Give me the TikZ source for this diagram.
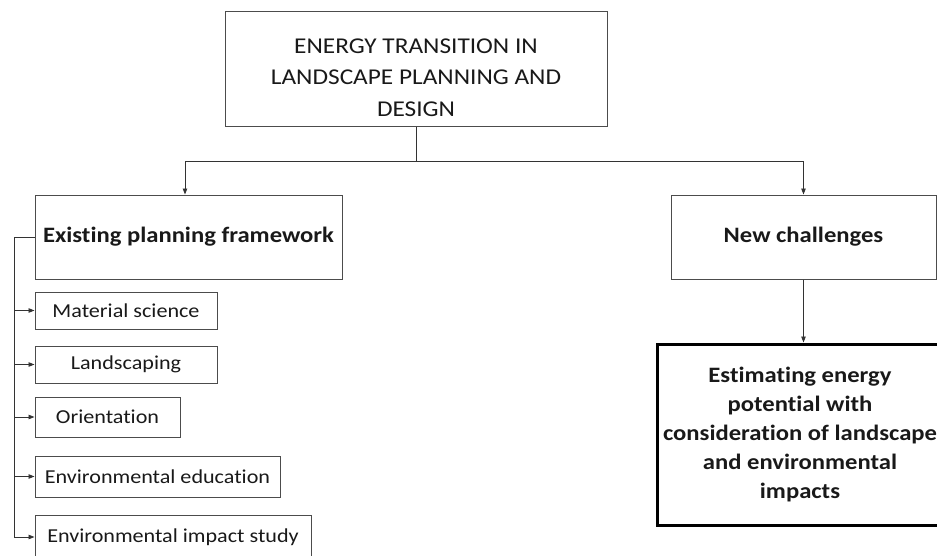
\documentclass[tikz,border=0pt]{standalone}
\usepackage{fontspec}
\setmainfont{Carlito}[FakeStretch=1.12,Ligatures=NoCommon]
\usetikzlibrary{arrows.meta}
\begin{document}
\begin{tikzpicture}[x=1pt,y=-1pt,
  box/.style={draw=black!70,line width=1pt,rectangle,inner sep=0pt,align=center,text=black!90},
  sub/.style={box,font=\fontsize{19.75}{23}\selectfont},
  arr/.style={draw=black!80,line width=0.9pt,-{Triangle[length=6pt,width=4.5pt]}},
  ln/.style={draw=black!80,line width=0.9pt}]
\useasboundingbox (0,0) rectangle (937,555);
\node[box,minimum width=382,minimum height=115,font=\fontsize{22.6}{31.5}\selectfont] (top) at (416,68.5)
  {\rule{0pt}{33pt}ENERGY TRANSITION IN\\LANDSCAPE PLANNING AND\\DESIGN};
\node[box,minimum width=307,minimum height=84,font=\fontsize{22}{26}\selectfont\bfseries] (exist) at (188.5,237)
  {Existing planning framework};
\node[box,minimum width=265,minimum height=84,font=\fontsize{22}{26}\selectfont\bfseries] (nc) at (803.5,237)
  {New challenges};
\node[box,draw=black,line width=3pt,minimum width=286,minimum height=181,font=\fontsize{22}{29}\selectfont\bfseries] (est) at (800,434.5)
  {Estimating energy\\potential with\\consideration of landscape\\and environmental\\impacts};
\node[sub,minimum width=182,minimum height=37] (ms) at (126,310.5) {Material science};
\node[sub,minimum width=182,minimum height=37] (la) at (126,364.5) {Landscaping};
\node[sub,minimum width=145,minimum height=40] (or) at (107.5,417) {Orientation};
\node[sub,minimum width=245,minimum height=41] (ee) at (157.5,476.5) {Environmental education};
\node[sub,minimum width=276,minimum height=44] (ei) at (173,537) {Environmental impact study};
\coordinate (j) at (416,161);
\coordinate (bus) at (14,237);
\draw[ln] (top.south) -- (j);
\draw[arr] (j) -| ([xshift=-3.5pt]exist.north);
\draw[arr] (j) -| (nc.north);
\draw[arr] (nc.south) -- (nc.south |- est.north);
\draw[ln] (exist.west) -- (bus) -- (bus |- ei.west);
\foreach \n in {ms,la,or,ee,ei} \draw[arr] (bus |- \n.west) -- (\n.west);
\end{tikzpicture}
\end{document}
